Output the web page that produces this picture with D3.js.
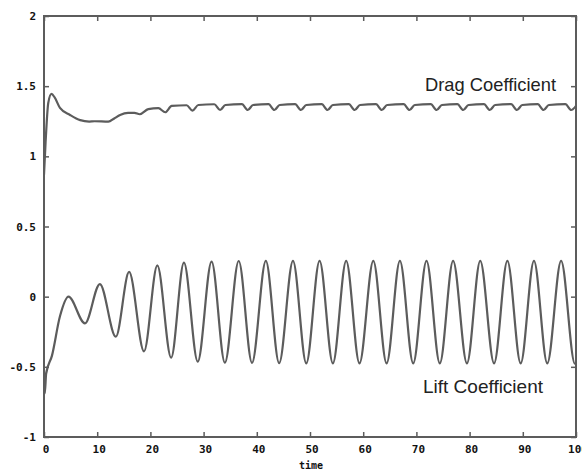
<!DOCTYPE html>
<html>
<head>
<meta charset="utf-8">
<script src="https://cdn.jsdelivr.net/npm/d3@7"></script>
<style>
  html, body { margin: 0; padding: 0; background: #fff; }
  svg { display: block; }
</style>
</head>
<body>
<svg width="582" height="472"></svg>
<script>
// x ticks / y ticks
var xTicks = [0, 10, 20, 30, 40, 50, 60, 70, 80, 90, 100]
var yTicks = [-1, -0.5, 0, 0.5, 1, 1.5, 2]
var yTickLabels = ['-1', '-0.5', '0', '0.5', '1', '1.5', '2']

// lift coefficient, read at the turning points
var liftT = [0, 0.15, 0.4, 1.5, 3.0, 4.6, 7.7, 10.5, 13.5, 16.0, 18.8, 21.3, 23.9, 26.3, 28.9,
  31.5, 34.0, 36.6, 39.1, 41.7, 44.2, 46.8, 49.3, 51.8, 54.3, 56.8, 59.3, 61.9, 64.4,
  66.9, 69.4, 71.9, 74.4, 76.9, 79.5, 82.0, 84.6, 87.1, 89.6, 92.1, 94.6, 97.2, 99.8, 100]
var liftV = [-0.52, -0.69, -0.55, -0.42, -0.14, 0.0, -0.19, 0.09, -0.285, 0.176, -0.39, 0.223, -0.435, 0.242, -0.463,
  0.25, -0.47, 0.254, -0.472, 0.255, -0.474, 0.255, -0.475, 0.255, -0.475, 0.255, -0.475, 0.255, -0.475,
  0.255, -0.475, 0.255, -0.475, 0.255, -0.475, 0.255, -0.475, 0.255, -0.475, 0.255, -0.475, 0.255, -0.478, -0.474]

// drag coefficient
var dragT = [0, 0.3, 0.8, 1.4, 2.0, 3.0, 4.9, 6.8, 8.5, 9.5, 12.1, 13.2, 14.3, 15.8, 17.0, 18.0, 19.6, 21.5,
  22.8, 24.0, 26.8, 27.9, 29.0, 32.0, 33.1, 34.1, 37.2, 38.3, 39.3, 42.2, 43.3, 44.3, 47.2, 48.3, 49.3,
  52.2, 53.3, 54.3, 57.3, 58.4, 59.4, 62.4, 63.5, 64.5, 67.6, 68.7, 69.7, 72.7, 73.8, 74.8, 77.7, 78.8, 79.8,
  82.7, 83.8, 84.8, 87.8, 88.9, 89.9, 92.8, 93.9, 94.9, 98.0, 99.1, 100]
var dragV = [0.87, 1.1, 1.38, 1.445, 1.42, 1.345, 1.295, 1.258, 1.248, 1.25, 1.247, 1.27, 1.295, 1.31, 1.31, 1.30, 1.336, 1.343,
  1.314, 1.359, 1.364, 1.326, 1.366, 1.371, 1.33, 1.366, 1.372, 1.33, 1.366, 1.372, 1.33, 1.366, 1.372, 1.33, 1.366,
  1.372, 1.33, 1.366, 1.372, 1.33, 1.366, 1.372, 1.33, 1.366, 1.372, 1.33, 1.366, 1.372, 1.33, 1.366, 1.372, 1.33, 1.366,
  1.372, 1.33, 1.366, 1.372, 1.33, 1.366, 1.372, 1.33, 1.366, 1.372, 1.33, 1.36]

;(function (d3) {
  var svg = d3.select('svg')
  var left = 44
  var right = 576
  var top = 16
  var bottom = 437
  var ink = '#5c5c5c'

  var x = d3.scaleLinear().domain([0, 100]).range([left, right])
  var y = d3.scaleLinear().domain([-1, 2]).range([bottom, top])

  var ln = d3.line()
    .x(function (d) { return x(d[0]) })
    .y(function (d) { return y(d[1]) })
    .curve(d3.curveMonotoneX)

  var lift = liftT.map(function (t, i) { return [t, liftV[i]] })
  var drag = dragT.map(function (t, i) { return [t, dragV[i]] })

  svg.append('clipPath').attr('id', 'clip')
    .append('rect')
    .attr('x', left).attr('y', top)
    .attr('width', right - left).attr('height', bottom - top)

  var plot = svg.append('g').attr('clip-path', 'url(#clip)')
  plot.selectAll('path')
    .data([lift, drag])
    .enter()
    .append('path')
    .attr('d', ln)
    .style('fill', 'none')
    .style('stroke', ink)
    .style('stroke-width', 2.2)
    .style('stroke-linejoin', 'round')

  // axes, ticks inward on every side
  var gx = svg.append('g').attr('transform', `translate(0,${bottom})`)
    .call(d3.axisBottom(x).tickValues(xTicks).tickSizeInner(-5).tickSizeOuter(0).tickPadding(8))
  var gy = svg.append('g').attr('transform', `translate(${left},0)`)
    .call(d3.axisLeft(y).tickValues(yTicks).tickSizeInner(-5).tickSizeOuter(0).tickPadding(8)
      .tickFormat(function (d, i) { return yTickLabels[i] }))
  var gt = svg.append('g').attr('transform', `translate(0,${top})`)
    .call(d3.axisTop(x).tickValues(xTicks).tickSizeInner(-5).tickSizeOuter(0).tickFormat(''))
  var gr = svg.append('g').attr('transform', `translate(${right},0)`)
    .call(d3.axisRight(y).tickValues(yTicks).tickSizeInner(-5).tickSizeOuter(0).tickFormat(''))

  ;[gx, gy, gt, gr].forEach(function (g) {
    g.select('.domain').remove()
    g.selectAll('line').style('stroke', ink).style('stroke-width', 1.5)
    g.selectAll('text')
      .style('font-family', '"DejaVu Sans Mono", monospace')
      .style('font-weight', 'bold')
      .style('font-size', '11px')
      .style('fill', '#111')
  })
  gx.selectAll('text').attr('dx', 1.5)

  svg.append('rect')
    .attr('x', left).attr('y', top)
    .attr('width', right - left).attr('height', bottom - top)
    .style('fill', 'none')
    .style('stroke', ink)
    .style('stroke-width', 2)

  svg.append('text')
    .attr('x', (left + right) / 2 + 1)
    .attr('y', 469)
    .style('text-anchor', 'middle')
    .style('font-family', '"DejaVu Sans Mono", monospace')
    .style('font-weight', 'bold')
    .style('font-size', '10px')
    .style('fill', '#111')
    .text('time')

  var notes = [
    {t: 'Drag Coefficient', x: 425, y: 91, w: 131},
    {t: 'Lift Coefficient', x: 423, y: 393, w: 120}
  ]
  svg.selectAll('text.note')
    .data(notes)
    .enter()
    .append('text')
    .attr('class', 'note')
    .attr('x', d => d.x)
    .attr('y', d => d.y)
    .attr('textLength', d => d.w)
    .attr('lengthAdjust', 'spacingAndGlyphs')
    .style('font-family', '"Liberation Sans", Arial, sans-serif')
    .style('font-size', '19px')
    .style('fill', '#222')
    .text(d => d.t)
})(window.d3)
</script>
</body>
</html>
